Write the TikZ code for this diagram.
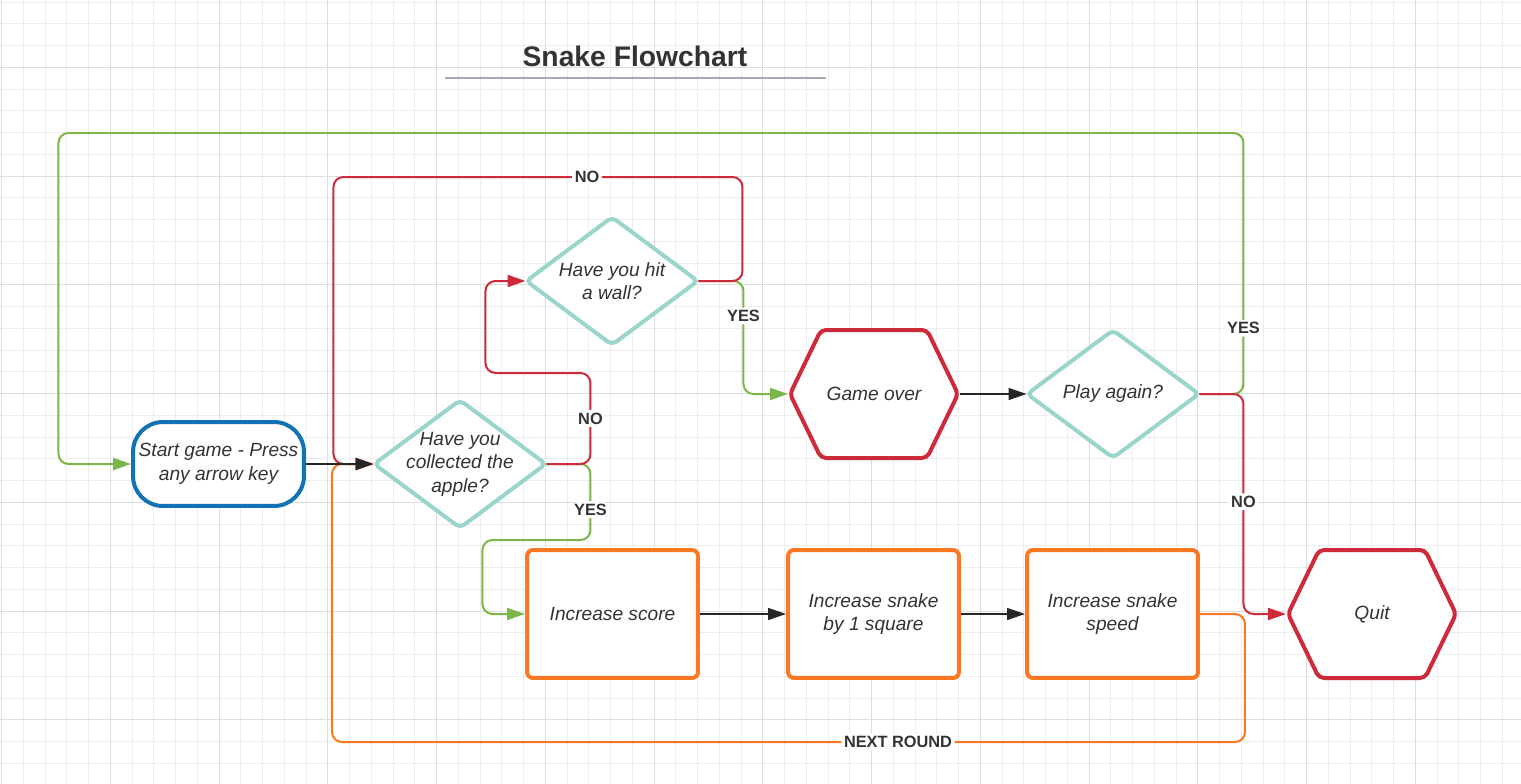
\documentclass[tikz,border=0pt]{standalone}
\usepackage{fontspec}
\setmainfont{Liberation Sans}
\usepackage{xcolor}
\definecolor{snakered}{RGB}{205,42,58}
\definecolor{snakegreen}{RGB}{122,182,72}
\definecolor{snakeorange}{RGB}{252,120,35}
\definecolor{snaketeal}{RGB}{154,213,203}
\definecolor{snakeblue}{RGB}{17,115,181}
\definecolor{textgray}{RGB}{51,51,51}
\definecolor{rulegray}{RGB}{163,170,182}
\definecolor{gridfine}{RGB}{237,237,237}
\definecolor{gridthick}{RGB}{221,221,221}
\usepackage{tikz}
\usetikzlibrary{shapes, arrows.meta, positioning, calc}

\begin{document}
\begin{tikzpicture}[x=0.02cm, y=-0.02cm,
    every node/.style={text=textgray, font=\itshape\fontsize{10.9}{13.4}\selectfont},
    startbox/.style={draw=snakeblue, fill=white, line width=0.08cm, rounded corners=0.6cm,
        minimum width=3.42cm, minimum height=1.68cm, inner sep=1pt, align=center},
    askbox/.style={diamond, draw=snaketeal, fill=white, line width=0.08cm, rounded corners=0.1cm,
        minimum width=3.44cm, minimum height=2.56cm, inner sep=0pt, outer sep=0.01cm},
    asktext/.style={align=center},
    stepbox/.style={draw=snakeorange, fill=white, line width=0.08cm, rounded corners=0.12cm,
        minimum width=3.42cm, minimum height=2.56cm, align=center},
    hexbox/.style={minimum width=3.36cm, minimum height=2.56cm, outer sep=0.04cm, align=center},
    hexline/.style={draw=snakered, fill=white, line width=0.08cm, rounded corners=0.1cm},
    lbl/.style={fill=white, inner sep=1.5pt, text=textgray, font=\bfseries\fontsize{9.3}{11}\selectfont},
    yeslink/.style={draw=snakegreen, line width=0.04cm, rounded corners=0.2cm, -{Triangle[length=0.36cm, width=0.24cm]}},
    nolink/.style={draw=snakered, line width=0.04cm, rounded corners=0.2cm, -{Triangle[length=0.36cm, width=0.24cm]}},
    roundlink/.style={draw=snakeorange, line width=0.04cm, rounded corners=0.2cm, -{Triangle[length=0.36cm, width=0.24cm]}},
    flowlink/.style={draw=black!85, line width=0.028cm, -{Triangle[length=0.36cm, width=0.24cm]}}]

    % Fondo con cuadricula
    \fill[white] (0,0) rectangle (1521,784);
    \useasboundingbox (0,0) rectangle (1521,784);
    \foreach \i in {0,...,69} {
        \draw[gridfine, line width=0.02cm] ({1.5+21.75*\i},0) -- ({1.5+21.75*\i},784);
    }
    \foreach \j in {0,...,35} {
        \draw[gridfine, line width=0.02cm] (0,{2.05+21.75*\j}) -- (1521,{2.05+21.75*\j});
    }
    \foreach \i in {0,5,...,65} {
        \draw[gridthick, line width=0.02cm] ({1.5+21.75*\i},0) -- ({1.5+21.75*\i},784);
    }
    \foreach \j in {3,8,...,33} {
        \draw[gridthick, line width=0.02cm] (0,{2.05+21.75*\j}) -- (1521,{2.05+21.75*\j});
    }

    % Titulo
    \node[font=\bfseries\fontsize{16.1}{19}\selectfont] (title) at (635,56) {Snake Flowchart};
    \draw[rulegray, line width=0.04cm] (445,78) -- (826,78);

    % Hexagonos de fin
    \foreach \cx/\cy in {874/394, 1372/614} {
        \filldraw[hexline] ({\cx-84},\cy) -- ++(31,-64) -- ++(106,0) -- ++(31,64)
            -- ++(-31,64) -- ++(-106,0) -- cycle;
    }

    % Nodos
    \node[startbox] (start) at (218.5,464) {Start game - Press\\any arrow key};
    \node[askbox, label={[asktext]center:{Have you\\collected the\\apple?}}] (apple) at (460,464) {};
    \node[askbox, label={[asktext]center:{Have you hit\\a wall?}}] (wall) at (612,281) {};
    \node[hexbox] (gameover) at (874,394) {Game over};
    \node[askbox, label={[asktext]center:{Play again?}}] (again) at (1113,394) {};
    \node[hexbox] (quit) at (1372,614) {Quit};
    \node[stepbox] (score) at (612.5,614) {Increase score};
    \node[stepbox] (grow) at (873.5,614) {Increase snake\\by 1 square};
    \node[stepbox] (speed) at (1112.5,614) {Increase snake\\speed};

    % Siguiente ronda
    \draw[roundlink] (speed.east) -- ++(45,0) |- node[lbl, pos=0.69] {NEXT ROUND} ++(-913,128) |- (apple.west);

    % Respuestas YES
    \draw[yeslink] (apple.east) -- ++(44,0) |- node[lbl, pos=0.3] {YES} ++(-108,76) |- (score.west);
    \draw[yeslink] (wall.east) -- ++(45,0) |- node[lbl, pos=0.155] {YES} (gameover.west);
    \draw[yeslink] (again.east) -- ++(44,0) |- node[lbl, pos=0.126] {YES} ++(-1185,-261) |- (start.west);

    % Respuestas NO
    \draw[nolink] (apple.east) -- ++(44,0) |- node[lbl, pos=0.25] {NO} ++(-105,-91) |- (wall.west);
    \draw[nolink] (wall.east) -- ++(44,0) |- node[lbl, pos=0.69] {NO} ++(-409,-104) |- (apple.west);
    \draw[nolink] (again.east) -- ++(44,0) |- node[lbl, pos=0.245] {NO} (quit.west);

    % Flechas directas
    \draw[flowlink] (start) -- (apple);
    \draw[flowlink] (gameover) -- (again);
    \draw[flowlink] (score) -- (grow);
    \draw[flowlink] (grow) -- (speed);
\end{tikzpicture}
\end{document}
